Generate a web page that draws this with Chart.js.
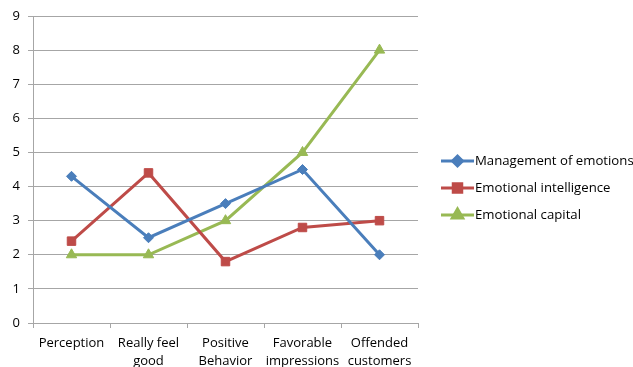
<!DOCTYPE html>
<html>
<head>
<meta charset="utf-8">
<script src="https://cdn.jsdelivr.net/npm/chart.js@4"></script>
<style>
  html, body { margin: 0; padding: 0; background: #fff; }
  #wrap { width: 633px; height: 367px; }
</style>
</head>
<body>
<div id="wrap"><canvas id="c" width="633" height="367"></canvas></div>
<script>
const categories = ["Perception", ["Really feel", "good"], ["Positive", "Behavior"], ["Favorable", "impressions"], ["Offended", "customers"]];
const managementOfEmotions = [4.3, 2.5, 3.5, 4.5, 2];
const emotionalIntelligence = [2.4, 4.4, 1.8, 2.8, 3];
const emotionalCapital = [2, 2, 3, 5, 8];
const yTicks = [0, 1, 2, 3, 4, 5, 6, 7, 8, 9];

const FONT = "'Open Sans', 'Noto Sans', sans-serif";
const GRID = '#a6a6a6';

// Legend drawn at the right: a short line with the series marker in its middle
const sideLegend = {
  id: 'sideLegend',
  afterDraw(chart) {
    const ctx = chart.ctx;
    const x0 = 441, len = 33, y0 = 161, step = 27;
    chart.data.datasets.forEach((ds, i) => {
      const y = y0 + i * step;
      ctx.save();
      ctx.strokeStyle = ds.borderColor;
      ctx.lineWidth = 3;
      ctx.beginPath();
      ctx.moveTo(x0, y);
      ctx.lineTo(x0 + len, y);
      ctx.stroke();
      Chart.helpers.drawPoint(ctx, {
        pointStyle: ds.pointStyle,
        radius: ds.pointRadius,
        rotation: ds.pointRotation || 0,
        borderWidth: 1
      }, x0 + len / 2, y);
      ctx.fillStyle = ds.backgroundColor;
      ctx.strokeStyle = ds.borderColor;
      ctx.fill();
      ctx.fillStyle = '#000';
      ctx.font = '13.2px ' + FONT;
      ctx.textBaseline = 'middle';
      ctx.fillText(ds.label, x0 + len + 1, y);
      ctx.restore();
    });
  }
};

new Chart(document.getElementById('c'), {
  type: 'line',
  data: {
    labels: categories,
    datasets: [
      {
        label: 'Management of emotions',
        data: managementOfEmotions,
        borderColor: '#4a7ebb',
        backgroundColor: '#4a7ebb',
        borderWidth: 3,
        pointStyle: 'rectRot',
        pointRadius: 5,
        pointBorderWidth: 1,
        tension: 0
      },
      {
        label: 'Emotional intelligence',
        data: emotionalIntelligence,
        borderColor: '#be4b48',
        backgroundColor: '#be4b48',
        borderWidth: 3,
        pointStyle: 'rect',
        pointRadius: 6,
        pointBorderWidth: 1,
        tension: 0
      },
      {
        label: 'Emotional capital',
        data: emotionalCapital,
        borderColor: '#98b954',
        backgroundColor: '#98b954',
        borderWidth: 3,
        pointStyle: 'triangle',
        pointRadius: 6,
        pointBorderWidth: 1,
        tension: 0
      }
    ]
  },
  options: {
    responsive: false,
    animation: false,
    layout: { padding: { top: 16, right: 215, left: 0, bottom: 0 } },
    plugins: { legend: { display: false }, tooltip: { enabled: false } },
    scales: {
      x: {
        offset: true,
        grid: { offset: true, drawOnChartArea: false, drawTicks: true, tickLength: 5, color: GRID },
        border: { color: GRID, width: 1 },
        ticks: { color: '#000', font: { family: FONT, size: 13, lineHeight: 1.38 }, padding: 6, maxRotation: 0, autoSkip: false },
        afterFit(scale) { scale.height = 44; }
      },
      y: {
        min: 0,
        max: 9,
        afterBuildTicks(scale) { scale.ticks = yTicks.map(v => ({ value: v })); },
        grid: { color: GRID, lineWidth: 1, tickLength: 5 },
        border: { color: GRID, width: 1 },
        ticks: { color: '#000', font: { family: FONT, size: 13 }, padding: 8 },
        afterFit(scale) { scale.width = 33; }
      }
    }
  },
  plugins: [sideLegend]
});
</script>
</body>
</html>
